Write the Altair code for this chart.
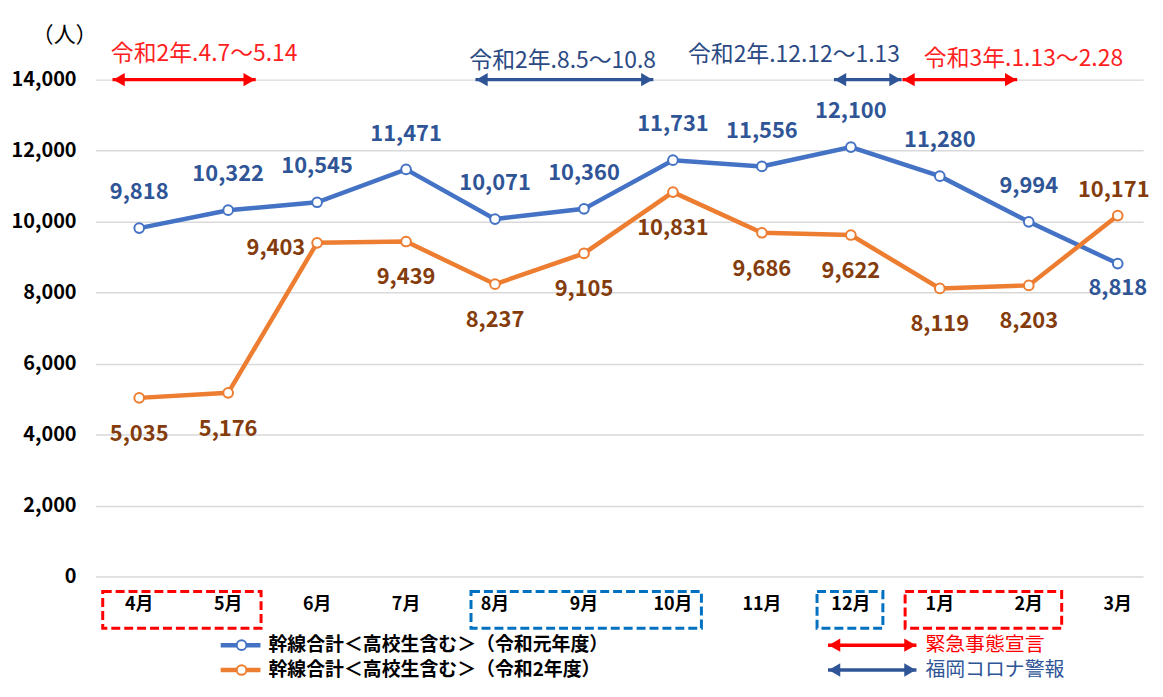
import altair as alt
import pandas as pd

FONT = "Noto Sans CJK JP"

# ---- data ----
months = ["4月", "5月", "6月", "7月", "8月", "9月", "10月", "11月", "12月", "1月", "2月", "3月"]
r1_values = [9818, 10322, 10545, 11471, 10071, 10360, 11731, 11556, 12100, 11280, 9994, 8818]
r2_values = [5035, 5176, 9403, 9439, 8237, 9105, 10831, 9686, 9622, 8119, 8203, 10171]
series_names = ["幹線合計＜高校生含む＞（令和元年度）", "幹線合計＜高校生含む＞（令和2年度）"]
y_ticks = [0, 2000, 4000, 6000, 8000, 10000, 12000, 14000]
unit_label = "（人）"

period_labels = ["令和2年.4.7～5.14", "令和2年.8.5～10.8", "令和2年.12.12～1.13", "令和3年.1.13～2.28"]
period_kind = ["緊急事態宣言", "福岡コロナ警報", "福岡コロナ警報", "緊急事態宣言"]
period_start = [-0.30, 3.78, 7.81, 8.58]
period_end = [1.31, 5.78, 8.57, 9.87]
period_text_x = [0.73, 4.76, 7.36, 9.94]
period_text_y = [14726, 14531, 14698, 14587]

box_kind = ["緊急事態宣言", "福岡コロナ警報", "福岡コロナ警報", "緊急事態宣言"]
box_start = [-0.41, 3.73, 7.62, 8.61]
box_end = [1.37, 6.32, 8.36, 10.37]

kind_names = ["緊急事態宣言", "福岡コロナ警報"]

# ---- colours ----
BLUE = "#4472C4"
ORANGE = "#ED7D31"
BLUE_LBL = "#2F5597"
ORANGE_LBL = "#843C0C"
RED = "#FF0000"
ARROW_BLUE = "#2F5597"

# ---- geometry of the drawing (pixels on the page) ----
STEP = 89.5           # px per month
X0 = 140              # page x of the first month
PLOT_L, PLOT_R = 96, 1150
ZERO_Y = 578          # page y of the 0 line
TOP_Y = 78            # page y of the 14,000 line
BOTTOM = 684          # page y where the drawing ends
px_per_unit = (ZERO_Y - TOP_Y) / 14000
y_top = 14000 + (TOP_Y - 8) / px_per_unit
plot_h = ZERO_Y - 8

def yv(pix):
    return (ZERO_Y - pix) / px_per_unit

def xv(pix):
    return (pix - X0) / STEP

xs = alt.Scale(domain=[xv(PLOT_L), xv(PLOT_R)], nice=False, zero=False)
ys = alt.Scale(domain=[0, y_top], nice=False, zero=True)

idx = list(range(len(months)))
df1 = pd.DataFrame({"i": idx, "v": r1_values, "m": months})
df2 = pd.DataFrame({"i": idx, "v": r2_values, "m": months})

X = alt.X("i:Q", scale=xs, axis=None)

yaxis = alt.Axis(values=y_ticks, labels=False, grid=True, gridColor="#D9D9D9", gridWidth=1.5,
                 domain=False, ticks=False, title=None)

def Y(field):
    return alt.Y(field, scale=ys, axis=yaxis)

grid = alt.Chart(pd.DataFrame({"i": [0], "v": [0]})).mark_point(opacity=0).encode(
    x=X, y=Y("v:Q"))

ytl = pd.DataFrame({"v": y_ticks, "x": [xv(77)] * len(y_ticks)})
y_labels = alt.Chart(ytl).mark_text(font=FONT, fontSize=20, fontWeight="bold", color="#000000",
                                    align="right", baseline="middle").encode(
    x=alt.X("x:Q", scale=xs, axis=None), y=Y("v:Q"), text=alt.Text("v:Q", format=","))

def series_layers(df, color):
    line = alt.Chart(df).mark_line(color=color, strokeWidth=4.5).encode(
        x=X, y=Y("v:Q"))
    pts = alt.Chart(df).mark_point(shape="circle", filled=True, fill="white", stroke=color,
                                   strokeWidth=2, size=95, opacity=1).encode(
        x=X, y=Y("v:Q"))
    return line, pts

b_line, b_pts = series_layers(df1, BLUE)
o_line, o_pts = series_layers(df2, ORANGE)

def labels(df, color, cond, **kw):
    return alt.Chart(df).transform_filter(cond).mark_text(
        font=FONT, fontSize=22, fontWeight="bold", color=color, baseline="middle", **kw
    ).encode(x=X, y=Y("v:Q"), text=alt.Text("v:Q", format=","))

b_lab_above = labels(df1, BLUE_LBL, "datum.i != 11", dy=-36)
b_lab_below = labels(df1, BLUE_LBL, "datum.i == 11", dy=25, dx=0)
o_lab_below = labels(df2, ORANGE_LBL, "datum.i != 2 && datum.i != 11", dy=36)
o_lab_left = labels(df2, ORANGE_LBL, "datum.i == 2", dy=5, dx=-12, align="right")
o_lab_above = labels(df2, ORANGE_LBL, "datum.i == 11", dy=-26, dx=-4)

kind_color = alt.Scale(domain=kind_names, range=[RED, ARROW_BLUE])
text_color = alt.Scale(domain=kind_names, range=["#FF1F1F", "#2B4A84"])

# ---- period arrows ----
pdf = pd.DataFrame({"s": period_start, "e": period_end, "k": period_kind,
                    "t": period_labels, "tx": period_text_x, "ty": period_text_y,
                    "y": [14000] * 4})

def arrow_layers(df, yfield="y"):
    rule = alt.Chart(df).mark_rule(strokeWidth=3.5).encode(
        x=alt.X("s:Q", scale=xs, axis=None), x2="e:Q",
        y=Y(f"{yfield}:Q"),
        color=alt.Color("k:N", scale=kind_color, legend=None))
    left = alt.Chart(df).mark_point(shape="triangle-left", filled=True, size=180,
                                    opacity=1, xOffset=6.5).encode(
        x=alt.X("s:Q", scale=xs, axis=None), y=Y(f"{yfield}:Q"),
        color=alt.Color("k:N", scale=kind_color, legend=None))
    right = alt.Chart(df).mark_point(shape="triangle-right", filled=True, size=180,
                                     opacity=1, xOffset=-6.5).encode(
        x=alt.X("e:Q", scale=xs, axis=None), y=Y(f"{yfield}:Q"),
        color=alt.Color("k:N", scale=kind_color, legend=None))
    return [rule, left, right]

period_text = alt.Chart(pdf).mark_text(font=FONT, fontSize=23, baseline="middle").encode(
    x=alt.X("tx:Q", scale=xs, axis=None), y=Y("ty:Q"), text="t:N",
    color=alt.Color("k:N", scale=text_color, legend=None))

# ---- dashed boxes and month labels ----
bdf = pd.DataFrame({"s": box_start, "e": box_end, "k": box_kind,
                    "y1": [yv(593)] * 4, "y2": [yv(630)] * 4})
boxes = alt.Chart(bdf).mark_rect(fillOpacity=0, strokeWidth=3, strokeDash=[9, 4]).encode(
    x=alt.X("s:Q", scale=xs, axis=None), x2="e:Q",
    y=Y("y1:Q"), y2="y2:Q",
    stroke=alt.Stroke("k:N", scale=alt.Scale(domain=kind_names, range=[RED, "#0070C0"]), legend=None))

mdf = pd.DataFrame({"i": idx, "m": months, "y": [yv(607)] * 12})
month_text = alt.Chart(mdf).mark_text(font=FONT, fontSize=18, fontWeight="bold",
                                      color="#000000", baseline="middle").encode(
    x=X, y=Y("y:Q"), text="m:N")

unit_text = alt.Chart(pd.DataFrame({"x": [xv(65)], "y": [yv(33)], "t": [unit_label]})).mark_text(
    font=FONT, fontSize=22, color="#000000", baseline="middle").encode(
    x=alt.X("x:Q", scale=xs, axis=None), y=Y("y:Q"), text="t:N")

# ---- legend (drawn) ----
ROW1, ROW2 = 647, 672
ldf = pd.DataFrame({"s": [xv(222)] * 2, "e": [xv(262)] * 2, "c": [xv(243)] * 2,
                    "tx": [xv(270)] * 2, "y": [yv(ROW1), yv(ROW2)], "n": series_names})
leg_line = alt.Chart(ldf).mark_rule(strokeWidth=4.5).encode(
    x=alt.X("s:Q", scale=xs, axis=None), x2="e:Q", y=Y("y:Q"),
    color=alt.Color("n:N", scale=alt.Scale(domain=series_names, range=[BLUE, ORANGE]), legend=None))
leg_pt = alt.Chart(ldf).mark_point(shape="circle", filled=True, fill="white", strokeWidth=2,
                                   size=95, opacity=1).encode(
    x=alt.X("c:Q", scale=xs, axis=None), y=Y("y:Q"),
    stroke=alt.Stroke("n:N", scale=alt.Scale(domain=series_names, range=[BLUE, ORANGE]), legend=None))
leg_text = alt.Chart(ldf).mark_text(font=FONT, fontSize=19, fontWeight="bold", color="#000000",
                                    align="left", baseline="middle").encode(
    x=alt.X("tx:Q", scale=xs, axis=None), y=Y("y:Q"), text="n:N")

adf = pd.DataFrame({"s": [xv(833)] * 2, "e": [xv(922)] * 2, "k": kind_names,
                    "y": [yv(ROW1), yv(ROW2)], "tx": [xv(931)] * 2})
leg_arrows = arrow_layers(adf)
leg_arrow_text = alt.Chart(adf).mark_text(font=FONT, fontSize=20, align="left",
                                          baseline="middle").encode(
    x=alt.X("tx:Q", scale=xs, axis=None), y=Y("y:Q"), text="k:N",
    color=alt.Color("k:N", scale=alt.Scale(domain=kind_names, range=[RED, ARROW_BLUE]), legend=None))

chart = alt.layer(
    grid, y_labels,
    *arrow_layers(pdf), period_text, unit_text,
    b_line, b_pts, o_line, o_pts,
    b_lab_above, b_lab_below, o_lab_below, o_lab_left, o_lab_above,
    boxes, month_text,
    leg_line, leg_pt, leg_text, *leg_arrows, leg_arrow_text,
).resolve_scale(color="independent", stroke="independent").properties(
    width=PLOT_R - PLOT_L, height=plot_h,
    autosize=alt.AutoSizeParams(type="none"),
    padding={"left": PLOT_L - 8, "top": 0, "right": 12, "bottom": BOTTOM - ZERO_Y},
).configure_view(stroke=None)

chart.save("out.html", embed_options={"renderer": "svg", "actions": False})
